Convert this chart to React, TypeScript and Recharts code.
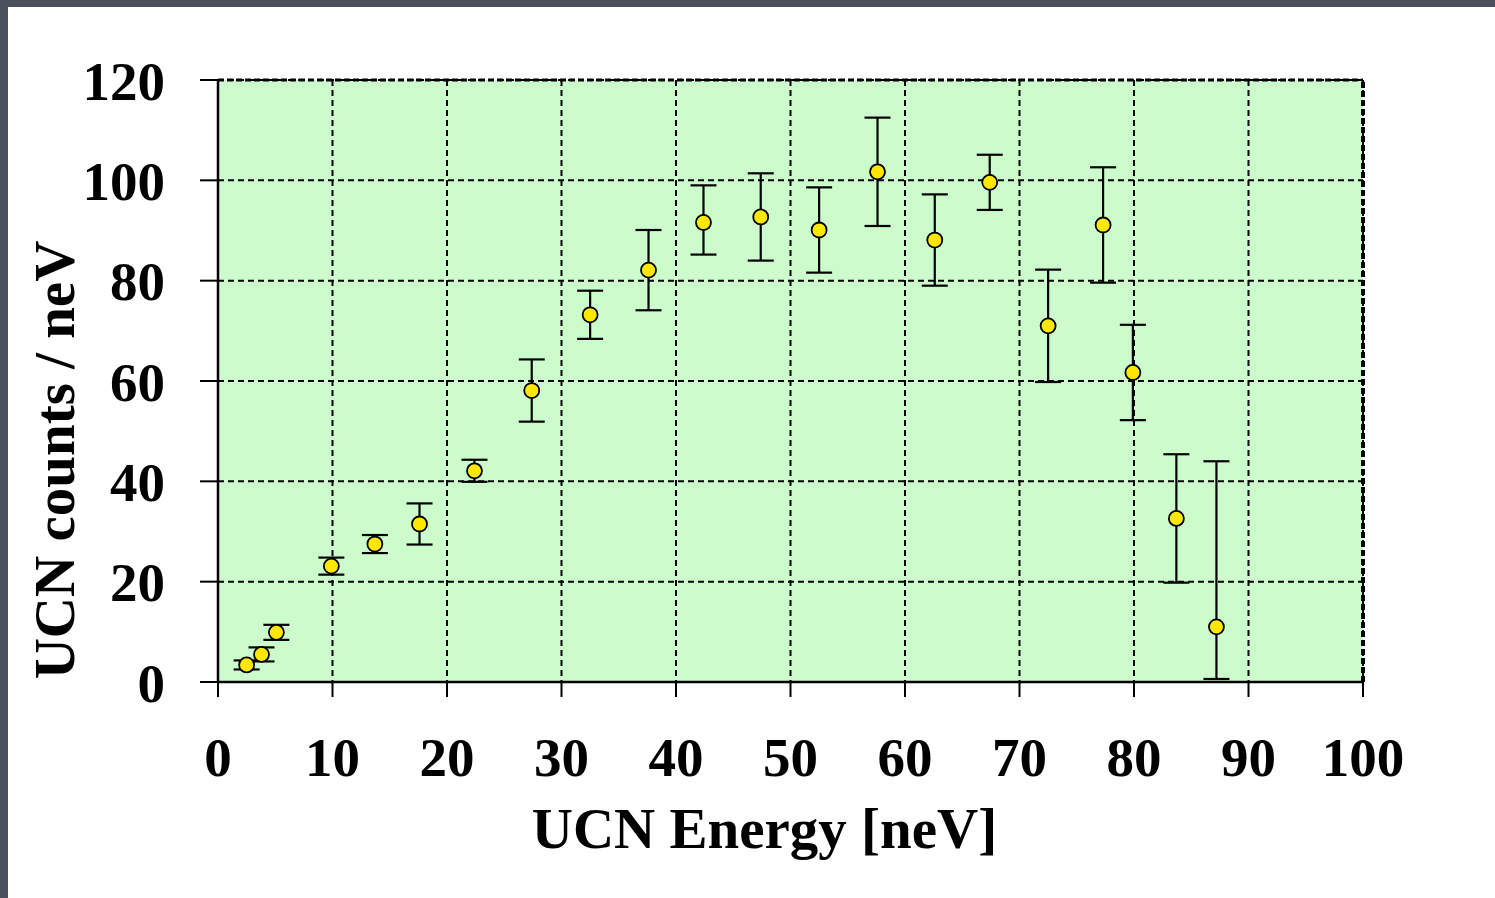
import {
  ScatterChart,
  Scatter,
  XAxis,
  YAxis,
  CartesianGrid,
  ErrorBar,
  ReferenceLine,
} from "recharts";

// UCN energy spectrum
const energies = [2.5, 3.8, 5.1, 9.9, 13.7, 17.6, 22.4, 27.4, 32.5, 37.6, 42.4, 47.4, 52.5, 57.6, 62.6, 67.4, 72.5, 77.3, 79.9, 83.7, 87.2];
const counts = [3.4, 5.5, 9.9, 23.1, 27.5, 31.5, 42.1, 58.1, 73.2, 82.1, 91.6, 92.7, 90.1, 101.7, 88.1, 99.6, 71.0, 91.1, 61.7, 32.6, 11.0];
// [below, above]
const errLow = [0.9, 1.4, 1.5, 1.7, 1.8, 4.1, 2.2, 6.2, 4.8, 8.0, 6.4, 8.7, 8.5, 10.8, 9.1, 5.5, 11.2, 11.5, 9.5, 12.8, 10.4];
const errHigh = [0.9, 1.4, 1.5, 1.7, 1.8, 4.1, 2.2, 6.2, 4.8, 8.0, 7.4, 8.7, 8.5, 10.8, 9.1, 5.5, 11.2, 11.5, 9.5, 12.8, 33.0];

const xTicks = [0, 10, 20, 30, 40, 50, 60, 70, 80, 90, 100];
const yTicks = [0, 20, 40, 60, 80, 100, 120];

const data = energies.map((e, i) => ({ x: e, y: counts[i], err: [errLow[i], errHigh[i]] }));

const FONT = "'Liberation Serif', 'Times New Roman', serif";

const Dot = (props: any) => (
  <circle cx={props.cx} cy={props.cy} r={7.5} fill="#ffe800" stroke="#000" strokeWidth={1.8} />
);

const XTitle = (props: any) => {
  const vb = props.viewBox;
  return (
    <text
      x={vb.x + vb.width / 2 - 26}
      y={vb.y + 166}
      textAnchor="middle"
      fontFamily={FONT}
      fontWeight="bold"
      fontSize={57}
      fill="#000"
    >
      UCN Energy [neV]
    </text>
  );
};

const YTitle = (props: any) => {
  const vb = props.viewBox;
  const cx = vb.x + 54;
  const cy = vb.y + vb.height / 2 + 79;
  return (
    <text
      x={cx}
      y={cy}
      transform={`rotate(-90, ${cx}, ${cy})`}
      textAnchor="middle"
      dominantBaseline="central"
      fontFamily={FONT}
      fontWeight="bold"
      fontSize={57}
      fill="#000"
    >
      UCN counts / neV
    </text>
  );
};

const tickStyle = { fontFamily: FONT, fontWeight: "bold", fontSize: 55, fill: "#000" };

export default function App() {
  return (
    <div style={{ position: "absolute", left: 0, top: 0, width: 1495, height: 898, background: "#4b505c" }}>
      <div style={{ position: "absolute", left: 8, top: 7, right: 0, bottom: 0, background: "#fff" }} />
      <div style={{ position: "absolute", left: 0, top: 0 }}>
        <ScatterChart width={1495} height={898} margin={{ top: 80, right: 132, bottom: 0, left: 0 }}>
          <CartesianGrid
            fill="#ccfccc"
            fillOpacity={1}
            stroke="#000"
            strokeWidth={2}
            strokeDasharray="6 4"
          />
          <XAxis
            type="number"
            dataKey="x"
            domain={[0, 100]}
            ticks={xTicks}
            height={216}
            tickSize={15}
            tickMargin={40}
            tick={tickStyle}
            axisLine={{ stroke: "#000", strokeWidth: 2.5 }}
            tickLine={{ stroke: "#000", strokeWidth: 2 }}
            label={<XTitle />}
          />
          <YAxis
            type="number"
            dataKey="y"
            domain={[0, 120]}
            ticks={yTicks}
            allowDataOverflow
            width={218}
            tickSize={18}
            tickMargin={35}
            tick={tickStyle}
            axisLine={{ stroke: "#000", strokeWidth: 2.5 }}
            tickLine={{ stroke: "#000", strokeWidth: 2 }}
            label={<YTitle />}
          />
          <ReferenceLine x={100} stroke="#000" strokeWidth={4} strokeDasharray="6 3" />
          <ReferenceLine y={120} stroke="#000" strokeWidth={3} strokeDasharray="6 3" />
          <Scatter data={data} shape={<Dot />} isAnimationActive={false}>
            <ErrorBar dataKey="err" direction="y" width={13} stroke="#000" strokeWidth={2.2} isAnimationActive={false} />
          </Scatter>
        </ScatterChart>
      </div>
    </div>
  );
}
